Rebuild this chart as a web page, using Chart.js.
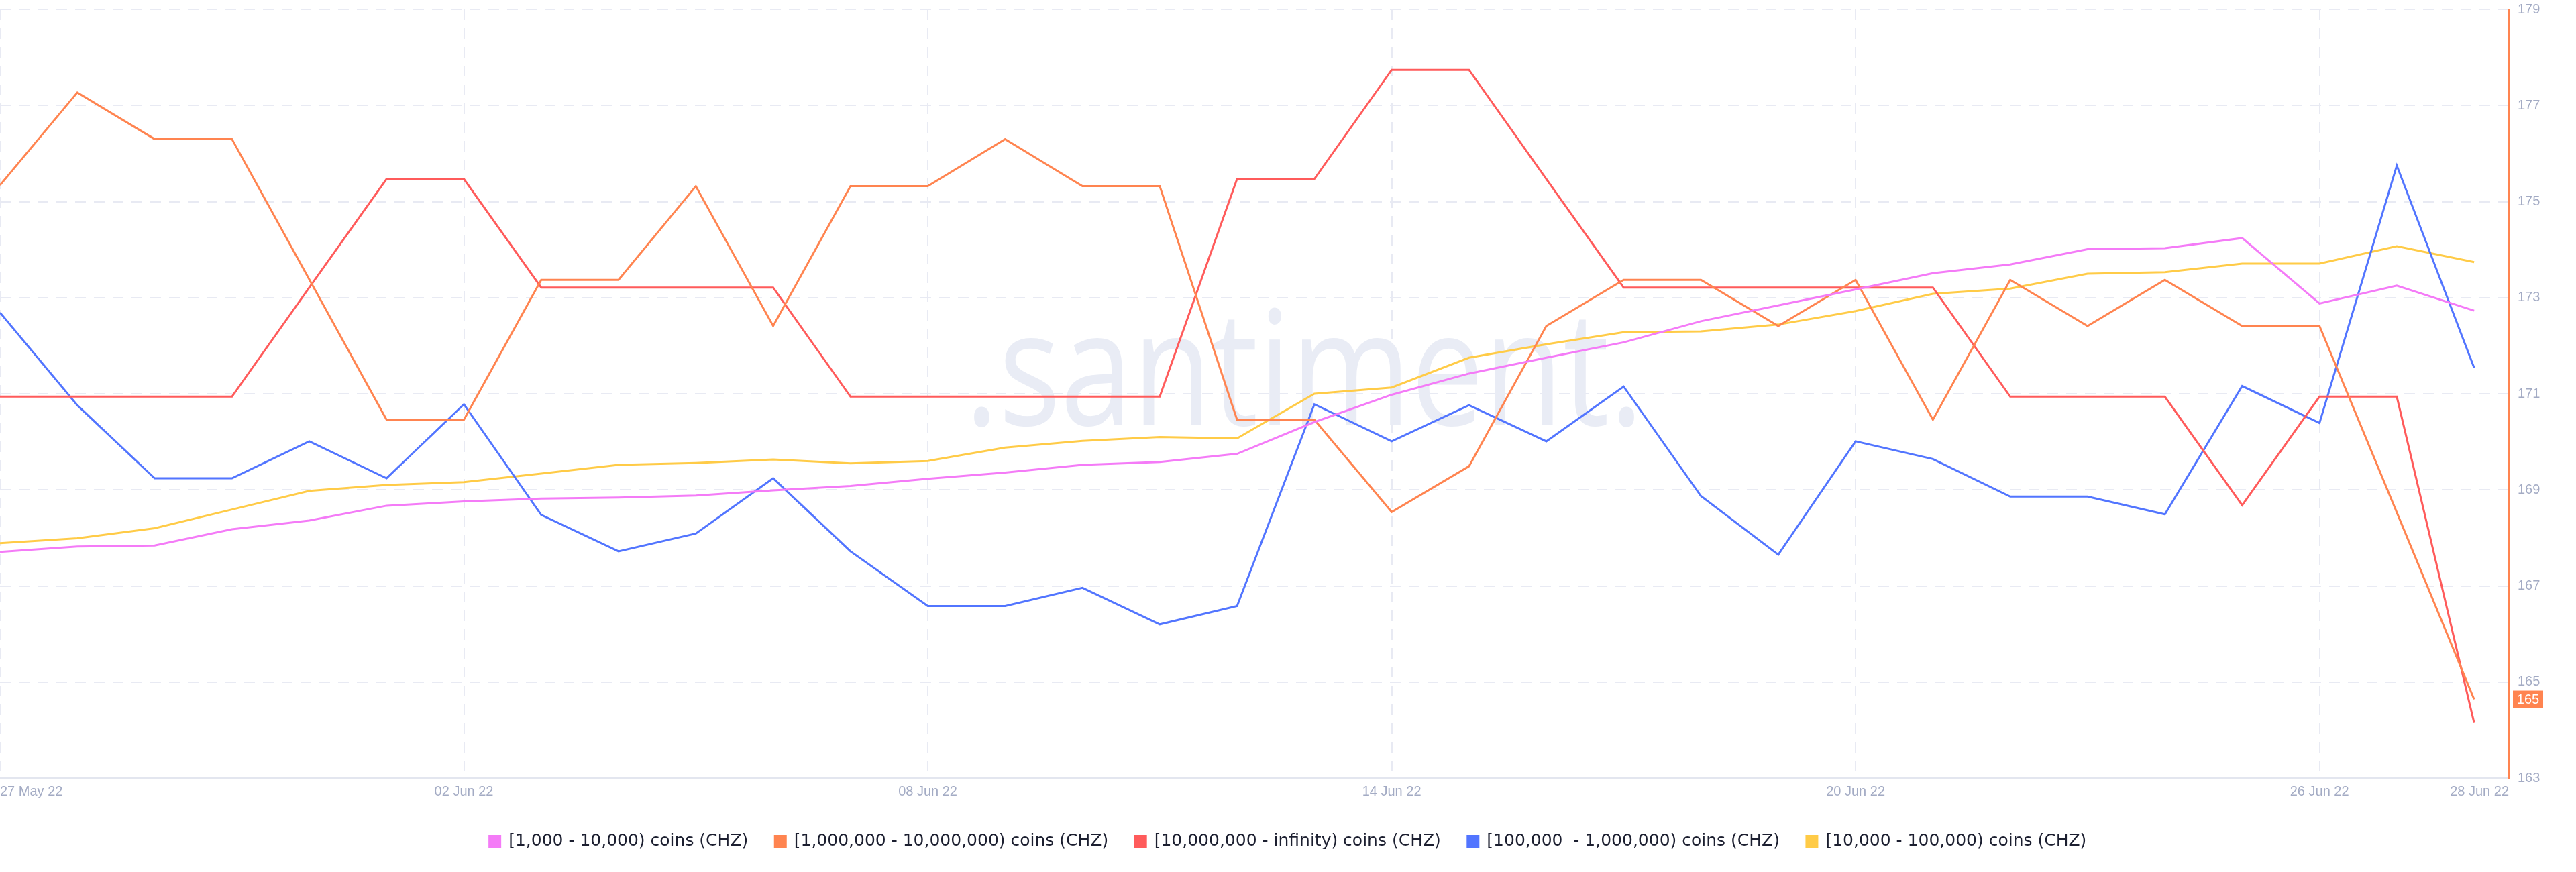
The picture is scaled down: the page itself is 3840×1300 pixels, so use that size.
<!DOCTYPE html>
<html>
<head>
<meta charset="utf-8">
<script src="https://cdn.jsdelivr.net/npm/chart.js@4/dist/chart.umd.min.js"></script>
<style>
  html, body { margin: 0; padding: 0; background: #ffffff; }
  #wrap { width: 3840px; height: 1300px; }
</style>
</head>
<body>
<div id="wrap"><canvas id="c" width="3840" height="1300"></canvas></div>
<script>
// ---------- data ----------
const dates = [
  '27 May 22','28 May 22','29 May 22','30 May 22','31 May 22',
  '01 Jun 22','02 Jun 22','03 Jun 22','04 Jun 22','05 Jun 22','06 Jun 22','07 Jun 22',
  '08 Jun 22','09 Jun 22','10 Jun 22','11 Jun 22','12 Jun 22','13 Jun 22','14 Jun 22',
  '15 Jun 22','16 Jun 22','17 Jun 22','18 Jun 22','19 Jun 22','20 Jun 22','21 Jun 22',
  '22 Jun 22','23 Jun 22','24 Jun 22','25 Jun 22','26 Jun 22','27 Jun 22','28 Jun 22'
];

const seriesNames = [
  '[1,000 - 10,000) coins (CHZ)',
  '[1,000,000 - 10,000,000) coins (CHZ)',
  '[10,000,000 - infinity) coins (CHZ)',
  '[100,000  - 1,000,000) coins (CHZ)',
  '[10,000 - 100,000) coins (CHZ)'
];

const coins1kTo10k = [
  167.71, 167.82, 167.84, 168.18, 168.36, 168.67, 168.76, 168.82, 168.84, 168.88,
  168.99, 169.08, 169.23, 169.36, 169.52, 169.58, 169.75, 170.41, 170.98, 171.42,
  171.75, 172.07, 172.51, 172.84, 173.17, 173.51, 173.69, 174.01, 174.03, 174.24,
  172.88, 173.25, 172.73
];
const coins1mTo10m = [
  175.34, 177.27, 176.30, 176.30, 173.38, 170.46, 170.46, 173.37, 173.37, 175.32,
  172.41, 175.32, 175.32, 176.30, 175.32, 175.32, 170.46, 170.46, 168.54, 169.49,
  172.41, 173.37, 173.37, 172.41, 173.37, 170.46, 173.37, 172.41, 173.37, 172.41,
  172.41, 168.53, 164.64
];
const coins10mToInf = [
  170.94, 170.94, 170.94, 170.94, 173.21, 175.47, 175.47, 173.21, 173.21, 173.21,
  173.21, 170.94, 170.94, 170.94, 170.94, 170.94, 175.47, 175.47, 177.74, 177.74,
  175.47, 173.21, 173.21, 173.21, 173.21, 173.21, 170.94, 170.94, 170.94, 168.68,
  170.94, 170.94, 164.15
];
const coins100kTo1m = [
  172.69, 170.76, 169.24, 169.24, 170.01, 169.24, 170.78, 168.48, 167.72, 168.09,
  169.24, 167.72, 166.58, 166.58, 166.96, 166.20, 166.58, 170.78, 170.01, 170.76,
  170.01, 171.15, 168.87, 167.65, 170.01, 169.64, 168.86, 168.86, 168.49, 171.16,
  170.39, 175.75, 171.54
];
const coins10kTo100k = [
  167.89, 167.99, 168.20, 168.59, 168.98, 169.10, 169.16, 169.34, 169.52, 169.56,
  169.63, 169.55, 169.60, 169.88, 170.02, 170.10, 170.07, 171.00, 171.13, 171.75,
  172.03, 172.28, 172.30, 172.44, 172.72, 173.08, 173.19, 173.50, 173.53, 173.71,
  173.71, 174.07, 173.74
];

const xTickLabels = ['27 May 22','02 Jun 22','08 Jun 22','14 Jun 22','20 Jun 22','26 Jun 22','28 Jun 22'];
const yMin = 163, yMax = 179, yStep = 2;

// ---------- styling ----------
const colors = ['#F47BF7', '#FF8450', '#FF5B5B', '#5275FF', '#FFCB47'];
const allSeries = [coins1kTo10k, coins1mTo10m, coins10mToInf, coins100kTo1m, coins10kTo100k];
const axisColor = '#a3abc4';
const gridColor = '#e8eaf3';
const X_END = 32.45; // axis runs slightly past the last daily point

const datasets = allSeries.map((vals, k) => ({
  label: seriesNames[k],
  data: vals.map((v, i) => ({ x: i, y: v })),
  borderColor: colors[k],
  backgroundColor: colors[k],
  borderWidth: 3,
  pointRadius: 0,
  pointHoverRadius: 0,
  tension: 0,
  fill: false
}));

// tick positions: date index of each label; last label sits at the axis end
const xTickValues = xTickLabels.map((lab, j) =>
  j === xTickLabels.length - 1 ? X_END : dates.indexOf(lab));

const watermark = {
  id: 'watermark',
  beforeDatasetsDraw(chart) {
    const ctx = chart.ctx;
    ctx.save();
    ctx.font = '400 238px "Open Sans", Lato, sans-serif';
    const text = '.santiment.';
    const w = ctx.measureText(text).width;
    const sx = 1012 / w;
    ctx.translate(1944, 634);
    ctx.scale(sx, 1);
    ctx.fillStyle = '#e9ecf5';
    ctx.textAlign = 'center';
    ctx.textBaseline = 'alphabetic';
    ctx.fillText(text, 0, 0);
    ctx.restore();
  }
};

const lastBadge = {
  id: 'lastBadge',
  afterDraw(chart) {
    const ctx = chart.ctx;
    const ys = chart.scales.y;
    const vals = coins1mTo10m;
    const v = vals[vals.length - 1];
    const py = ys.getPixelForValue(v);
    const left = chart.chartArea.right + 6;
    ctx.save();
    ctx.fillStyle = colors[1];
    ctx.fillRect(left, py - 13, 45, 26);
    ctx.fillStyle = '#ffffff';
    ctx.font = '20px "Liberation Sans", Arial, sans-serif';
    ctx.textAlign = 'center';
    ctx.textBaseline = 'middle';
    ctx.fillText(String(Math.round(v)), left + 22.5, py + 1);
    ctx.restore();
  }
};

new Chart(document.getElementById('c'), {
  type: 'line',
  data: { datasets },
  plugins: [watermark, lastBadge],
  options: {
    responsive: false,
    animation: false,
    devicePixelRatio: 1,
    layout: { padding: { top: 14, bottom: 23, left: 0, right: 0 } },
    plugins: {
      tooltip: { enabled: false },
      legend: {
        position: 'bottom',
        align: 'center',
        labels: {
          boxWidth: 16,
          boxHeight: 16,
          padding: 40,
          color: '#1c1f30',
          font: { family: '"DejaVu Sans", sans-serif', size: 25 }
        }
      }
    },
    scales: {
      x: {
        type: 'linear',
        min: 0,
        max: X_END,
        afterBuildTicks: (scale) => { scale.ticks = xTickValues.map(v => ({ value: v })); },
        afterFit: (scale) => { scale.height = 42; },
        ticks: {
          autoSkip: false,
          maxRotation: 0,
          align: 'inner',
          padding: 0,
          color: axisColor,
          font: { family: '"Liberation Sans", Arial, sans-serif', size: 20 },
          callback: (value, index) => xTickLabels[index]
        },
        grid: {
          color: gridColor,
          lineWidth: 2,
          drawTicks: true,
          tickLength: 8,
          tickColor: 'rgba(0,0,0,0)'
        },
        border: { display: true, color: '#e3e6ef', width: 2, dash: [16, 12] }
      },
      y: {
        position: 'right',
        min: yMin,
        max: yMax,
        afterFit: (scale) => { scale.width = 100; },
        ticks: {
          stepSize: yStep,
          padding: 0,
          color: axisColor,
          font: { family: '"Liberation Sans", Arial, sans-serif', size: 20 }
        },
        grid: {
          color: gridColor,
          lineWidth: 2,
          drawTicks: true,
          tickLength: 13,
          tickColor: 'rgba(0,0,0,0)'
        },
        border: { display: true, color: '#FF8450', width: 2, dash: [16, 12] }
      }
    }
  }
});
</script>
</body>
</html>
